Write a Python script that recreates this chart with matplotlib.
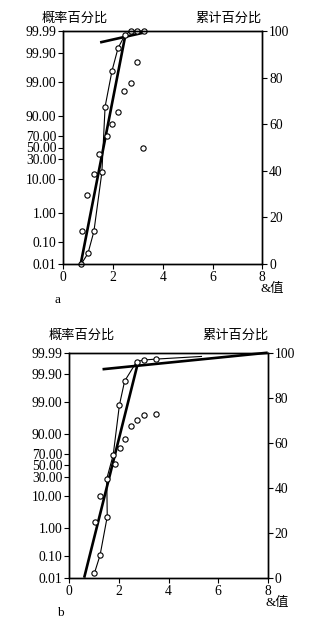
import numpy as np
import matplotlib
matplotlib.use("Agg")
import matplotlib.pyplot as plt

plt.rcParams['font.family'] = ['Liberation Serif', 'Noto Sans CJK SC']
CJK = ['Noto Sans CJK SC', 'DejaVu Sans']

# probability-axis ticks (percent) and their relative heights on the paper
prob_ticks = [0.01, 0.1, 1, 10, 30, 50, 70, 90, 99, 99.9, 99.99]
prob_labels = ["0.01", "0.10", "1.00", "10.00", "30.00", "50.00",
               "70.00", "90.00", "99.00", "99.90", "99.99"]
prob_pos = [0.0, 0.0945, 0.22, 0.3635, 0.449, 0.5, 0.551, 0.6365, 0.78, 0.9055, 1.0]
cum_ticks = [0, 20, 40, 60, 80, 100]
x_ticks = [0, 2, 4, 6, 8]

# panel a
a_prob_x = [0.72, 0.99, 1.23, 1.55, 1.68, 1.96, 2.20, 2.48, 2.72, 2.96, 3.23]
a_prob_y = [0.01, 0.03, 0.23, 15, 94.5, 99.6, 99.94, 99.985, 99.99, 99.99, 99.99]
a_curve_x = a_prob_x
a_curve_y = a_prob_y
a_cum_x = [0.74, 0.95, 1.22, 1.45, 1.74, 1.97, 2.20, 2.45, 2.71, 2.95, 3.22]
a_cum_y = [14.3, 29.8, 38.5, 47.4, 54.8, 60.0, 65.4, 74.2, 77.8, 86.6, 49.8]
a_fit1_x = [0.70, 2.48]
a_fit1_y = [0.01, 99.981]
a_fit2_x = [1.48, 3.36]
a_fit2_y = [99.967, 99.989]

# panel b
b_prob_x = [1.01, 1.24, 1.53, 1.51, 1.77, 2.02, 2.23, 2.72, 3.02, 3.49]
b_prob_y = [0.016, 0.11, 2.33, 27, 68, 98.76, 99.82, 99.974, 99.978, 99.98]
b_curve_x = b_prob_x + [5.33]
b_curve_y = b_prob_y + [99.985]
b_cum_x = [1.02, 1.25, 1.83, 2.04, 2.24, 2.50, 2.74, 3.01, 3.49]
b_cum_y = [24.6, 36.5, 50.5, 57.8, 61.8, 67.3, 70.2, 72.1, 72.7]
b_fit1_x = [0.60, 2.78]
b_fit1_y = [0.01, 99.974]
b_fit2_x = [1.34, 8.0]
b_fit2_y = [99.94, 99.99]

knot_l = np.log(np.array(prob_ticks) / (100 - np.array(prob_ticks)))
knot_p = 100 * np.array(prob_pos)


def fwd(p):
    p = np.clip(np.asarray(p, dtype=float), 1e-4, 100 - 1e-4)
    return np.interp(np.log(p / (100 - p)), knot_l, knot_p)


def inv(v):
    l = np.interp(np.asarray(v, dtype=float), knot_p, knot_l)
    return 100 / (1 + np.exp(-l))


def draw_panel(rect, px, py, curve_x, curve_y, fits, cumx, cumy):
    ax = fig.add_axes(rect)
    ax.set_yscale('function', functions=(fwd, inv))
    ax.plot(curve_x, curve_y, color='black', lw=0.8, clip_on=False)
    for fx, fy in fits:
        ax.plot(fx, fy, color='black', lw=1.9, clip_on=False, solid_capstyle='butt')
    ax.plot(px, py, 'o', ms=3.8, mfc='white', mec='black', mew=0.8, clip_on=False)
    ax.set_xlim(0, 8)
    ax.set_ylim(0.01, 99.99)
    ax.set_yticks(prob_ticks, prob_labels)
    ax.minorticks_off()
    ax.set_xticks(x_ticks)
    ax.tick_params(direction='out', length=3.5, width=0.8, labelsize=9.8, pad=1.5)
    ax2 = ax.twinx()
    ax2.plot(cumx, cumy, 'o', ms=3.8, mfc='white', mec='black', mew=0.8, clip_on=False)
    ax2.set_ylim(0, 100)
    ax2.set_yticks(cum_ticks)
    ax2.tick_params(direction='out', length=3.5, width=0.8, labelsize=9.8, pad=1.5)
    for a in (ax, ax2):
        for s in a.spines.values():
            s.set_linewidth(1.0)
    return ax


fig = plt.figure(figsize=(3.34, 6.22), dpi=100)
W, H = 334.0, 622.0

draw_panel([63.3 / W, 1 - 264 / H, 199 / W, 233 / H],
           a_prob_x, a_prob_y, a_curve_x, a_curve_y,
           [(a_fit1_x, a_fit1_y), (a_fit2_x, a_fit2_y)], a_cum_x, a_cum_y)
draw_panel([69.3 / W, 1 - 577.7 / H, 198.4 / W, 225 / H],
           b_prob_x, b_prob_y, b_curve_x, b_curve_y,
           [(b_fit1_x, b_fit1_y), (b_fit2_x, b_fit2_y)], b_cum_x, b_cum_y)


# texts
def put(x, y, s, ha='center', fam=CJK, size=9.5):
    fig.text(x / W, 1 - y / H, s, ha=ha, va='center', family=fam, fontsize=size)


put(75, 18, "概率百分比")
put(228, 18, "累计百分比")
put(272, 289, "&值", fam=['Liberation Serif', 'Noto Sans CJK SC'])
put(57, 300, "a", fam=['Liberation Serif'])
put(82, 335, "概率百分比")
put(235, 335, "累计百分比")
put(277, 603, "&值", fam=['Liberation Serif', 'Noto Sans CJK SC'])
put(60, 613, "b", fam=['Liberation Serif'])

fig.savefig('out.png', dpi=100)
